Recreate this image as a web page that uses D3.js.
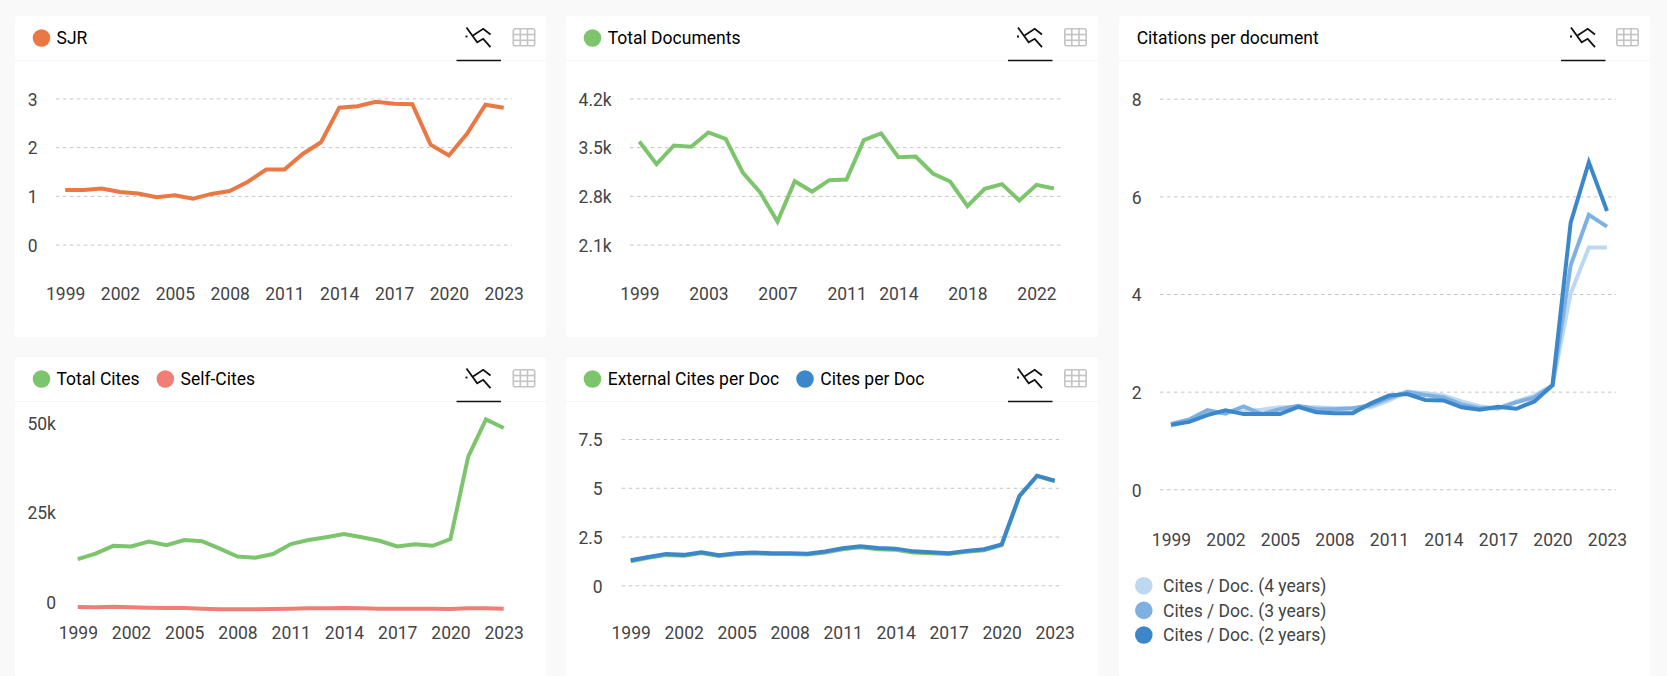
<!DOCTYPE html>
<html>
<head>
<meta charset="utf-8">
<script src="https://cdn.jsdelivr.net/npm/d3@7"></script>
<style>
html,body{margin:0;padding:0;background:#f9f9f9;overflow:hidden;}
svg{display:block;font-family:Roboto,sans-serif;}
.tick text{font-size:17.5px;fill:#444;font-family:Roboto,sans-serif;}
.domain{display:none;}
.title{font-size:17.5px;fill:#000;}
.legend{font-size:17.5px;fill:#444;}
</style>
</head>
<body>
<svg id="page" width="1667" height="676"></svg>
<script>
const years = d3.range(1999,2024);

const sjr = [1.12,1.12,1.15,1.08,1.05,0.97,1.01,0.94,1.04,1.10,1.29,1.54,1.54,1.86,2.10,2.81,2.84,2.93,2.89,2.88,2.05,1.83,2.28,2.87,2.81];
const totalDocs = [3582,3256,3524,3505,3711,3620,3131,2848,2431,3011,2862,3025,3035,3601,3697,3356,3366,3121,3006,2651,2901,2968,2733,2958,2906];
const totalCites = [11800,13300,15500,15300,16700,15700,17100,16800,14700,12500,12200,13200,16000,17100,17900,18800,17900,16900,15300,15900,15500,17400,40400,50800,48400];
// sits a little under the 0 label in the picture, so it reads negative on this axis
const selfCites = [-1580,-1680,-1490,-1680,-1770,-1860,-1860,-2050,-2230,-2230,-2230,-2140,-2050,-1950,-1950,-1860,-1950,-2050,-2050,-2050,-2050,-2140,-1950,-1950,-2050];
const externalPerDoc = [1.23,1.41,1.55,1.52,1.65,1.50,1.60,1.64,1.60,1.60,1.58,1.68,1.85,1.95,1.85,1.82,1.68,1.64,1.60,1.72,1.80,2.06,4.55,5.60,5.34];
const citesPerDoc = [1.28,1.45,1.61,1.56,1.69,1.54,1.64,1.68,1.64,1.64,1.62,1.73,1.90,2.00,1.91,1.88,1.74,1.69,1.64,1.76,1.85,2.10,4.58,5.62,5.36];
const cites4y = [1.30,1.40,1.55,1.58,1.60,1.63,1.68,1.68,1.68,1.66,1.66,1.68,1.82,2.00,1.97,1.92,1.80,1.70,1.65,1.80,1.92,2.13,4.01,4.95,4.95];
const cites3y = [1.34,1.43,1.62,1.55,1.70,1.54,1.64,1.71,1.64,1.64,1.66,1.72,1.87,1.99,1.93,1.88,1.74,1.66,1.66,1.78,1.88,2.13,4.59,5.62,5.38];
const cites2y = [1.32,1.38,1.52,1.62,1.54,1.54,1.54,1.69,1.58,1.56,1.56,1.76,1.92,1.95,1.83,1.82,1.68,1.63,1.69,1.65,1.80,2.13,5.46,6.70,5.70];

const xTicks3 = [1999,2002,2005,2008,2011,2014,2017,2020,2023];
const xTicksDocs = [1999,2003,2007,2011,2014,2018,2022];

const ORANGE='#ea7844', GREEN='#7cc56d', RED='#ef7e76', BLUE='#3c87ca', MID='#7eb1e1', LIGHT='#bdd8f1';

const svg = d3.select('#page');
const fmtK = d=>d===0?'0':(d/1000)+'k';
const fmtYear = d3.format('d');

function panelBox(x,y,w,h,lineY){
  svg.append('rect').attr('x',x).attr('y',y).attr('width',w).attr('height',h).attr('rx',3).attr('fill','#fff');
  svg.append('line').attr('x1',x).attr('x2',x+w).attr('y1',lineY+.5).attr('y2',lineY+.5).attr('stroke','#f5f5f5');
}

function chartIcon(cx,cy){
  const g = svg.append('g').attr('transform',`translate(${cx},${cy})`).attr('fill','none').attr('stroke','#111').attr('stroke-width',1.8);
  g.append('path').attr('d','M-12,-10 L-1.3,4.7 L4.7,1.3 L12,9.7');
  g.append('path').attr('d','M-5.5,-2 L4.7,-8.7 L12,-3');
  g.append('path').attr('d','M-13,-1 h2');
}

function tableIcon(x,y){
  const g = svg.append('g').attr('transform',`translate(${x},${y})`).attr('fill','none').attr('stroke','#c4c4c4').attr('stroke-width',1.6);
  g.append('rect').attr('x',.8).attr('y',.8).attr('width',21.4).attr('height',17).attr('rx',2);
  [7.8,15].forEach(d=>g.append('line').attr('x1',d).attr('x2',d).attr('y1',1).attr('y2',18));
  [6.5,12.3].forEach(d=>g.append('line').attr('x1',1).attr('x2',22).attr('y1',d).attr('y2',d));
}

function header(items,cy){
  items.forEach(it=>{
    if(it.color) svg.append('circle').attr('cx',it.cx).attr('cy',cy).attr('r',8.8).attr('fill',it.color);
    svg.append('text').attr('class','title').attr('x',it.tx).attr('y',cy).attr('dy','.35em').text(it.label);
  });
}

function drawChart(c){
  panelBox(c.box[0],c.box[1],c.box[2],c.box[3],c.box[1]+44);
  header(c.items,c.box[1]+22);
  chartIcon(c.iconX,c.box[1]+21.5);
  svg.append('line').attr('x1',c.iconX-22).attr('x2',c.iconX+22.5).attr('y1',c.box[1]+44.5).attr('y2',c.box[1]+44.5).attr('stroke','#111').attr('stroke-width',1.4);
  tableIcon(c.tableX,c.box[1]+12);

  const x = d3.scaleLinear().domain([1999,2023]).range(c.xr);
  const y = d3.scaleLinear().domain(c.yd).range(c.yr);

  const yAxis = d3.axisLeft(y).tickValues(c.yTicks).tickFormat(c.yFmt||(d=>d))
    .tickSize(-(c.grid[1]-c.grid[0])).tickPadding(c.grid[0]-c.labelRight);
  const yg = svg.append('g').attr('transform',`translate(${c.grid[0]},0)`).call(yAxis);
  yg.selectAll('.tick line').attr('stroke',c.noGrid?'none':'#c4c4c4').attr('stroke-dasharray','3.5,3.5');
  yg.selectAll('.tick text').attr('dy','.39em');

  const xAxis = d3.axisBottom(x).tickValues(c.xTicks).tickFormat(fmtYear).tickSize(0).tickPadding(0);
  svg.append('g').attr('transform',`translate(0,${c.xLabelY-6})`).call(xAxis);

  const line = d3.line().x((d,i)=>x(years[i])).y(d=>y(d));
  c.series.forEach(s=>{
    svg.append('path').datum(s.values).attr('d',line).attr('fill','none')
      .attr('stroke',s.color).attr('stroke-width',4).attr('stroke-linejoin','miter');
  });
}

drawChart({
  box:[15,16,531,321], iconX:478.5, tableX:512.5,
  items:[{color:ORANGE,cx:41.5,tx:56.5,label:'SJR'}],
  xr:[65.2,503.7], yd:[0,3], yr:[244.6,98.4], grid:[55.8,512], labelRight:37.5,
  yTicks:[0,1,2,3], xTicks:xTicks3, xLabelY:294,
  series:[{values:sjr,color:ORANGE}]
});

drawChart({
  box:[566,16,532,321], iconX:1030, tableX:1064,
  items:[{color:GREEN,cx:592.5,tx:607.7,label:'Total Documents'}],
  xr:[639.3,1053.8], yd:[2100,4200], yr:[244.6,98.4], grid:[630,1063], labelRight:611.7,
  yTicks:[2100,2800,3500,4200], yFmt:fmtK, xTicks:xTicksDocs, xLabelY:294,
  series:[{values:totalDocs,color:GREEN}]
});

drawChart({
  box:[15,357,531,330], iconX:478.5, tableX:512.5,
  items:[{color:GREEN,cx:41.5,tx:56.5,label:'Total Cites'},{color:RED,cx:165.3,tx:180.5,label:'Self-Cites'}],
  xr:[77.8,503.7], yd:[0,50000], yr:[601.3,422.3], grid:[65,512], labelRight:56,
  yTicks:[0,25000,50000], yFmt:fmtK, noGrid:true, xTicks:xTicks3, xLabelY:633,
  series:[{values:totalCites,color:GREEN},{values:selfCites,color:RED}]
});

drawChart({
  box:[566,357,532,330], iconX:1030, tableX:1064,
  items:[{color:GREEN,cx:592.5,tx:607.7,label:'External Cites per Doc'},{color:BLUE,cx:805,tx:820.3,label:'Cites per Doc'}],
  xr:[630.7,1054.7], yd:[0,7.5], yr:[585.3,439], grid:[621.7,1063], labelRight:602.7,
  yTicks:[0,2.5,5,7.5], xTicks:xTicks3, xLabelY:633,
  series:[{values:externalPerDoc,color:GREEN},{values:citesPerDoc,color:BLUE}]
});

drawChart({
  box:[1119,16,531,671], iconX:1583, tableX:1616,
  items:[{tx:1136.7,label:'Citations per document'}],
  xr:[1171,1607], yd:[0,8], yr:[489.3,98.7], grid:[1160,1616], labelRight:1141.7,
  yTicks:[0,2,4,6,8], xTicks:xTicks3, xLabelY:539.3,
  series:[{values:cites4y,color:LIGHT},{values:cites3y,color:MID},{values:cites2y,color:BLUE}]
});

const legendNames = ['Cites / Doc. (4 years)','Cites / Doc. (3 years)','Cites / Doc. (2 years)'];
const legendColors = [LIGHT,MID,BLUE];
legendNames.forEach((n,i)=>{
  const ly = 585.8+i*24.6;
  svg.append('circle').attr('cx',1143.8).attr('cy',ly).attr('r',8.8).attr('fill',legendColors[i]);
  svg.append('text').attr('class','legend').attr('x',1163).attr('y',ly).attr('dy','.35em').text(n);
});
</script>
</body>
</html>
